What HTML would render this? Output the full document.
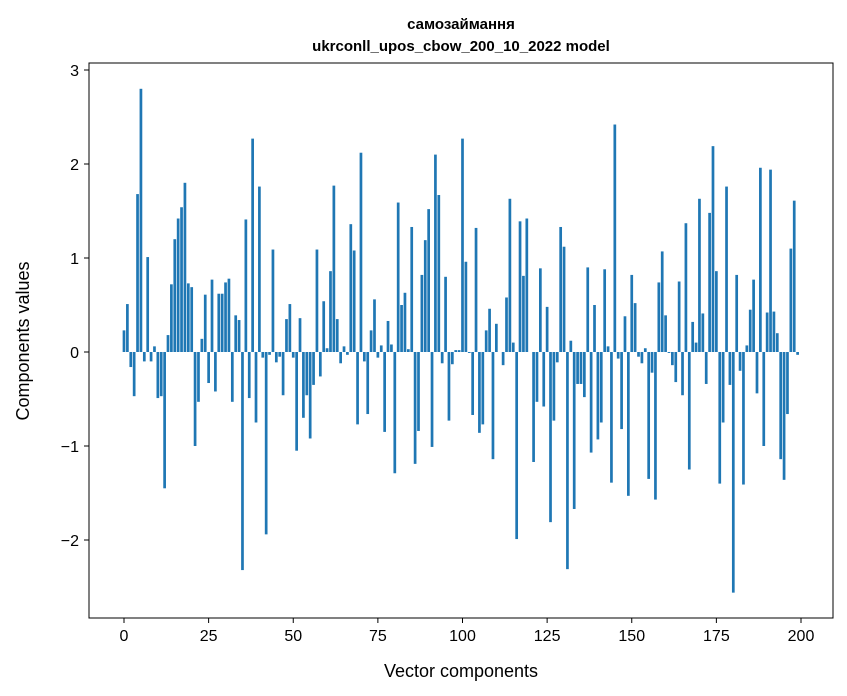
<!DOCTYPE html>
<html><head><meta charset="utf-8"><style>body{margin:0;background:#fff}svg{display:block}text{font-family:"Liberation Sans","DejaVu Sans",sans-serif}</style></head>
<body>
<svg id="chart" width="847" height="696">
<text x="461" y="29" text-anchor="middle" font-size="15" font-weight="bold">самозаймання</text>
<text x="461" y="51" text-anchor="middle" font-size="15" font-weight="bold">ukrconll_upos_cbow_200_10_2022 model</text>
<g id="bars"></g>
<g id="axes"></g>
<rect x="89" y="63" width="744" height="555" fill="none" stroke="#000" stroke-width="1"/>
<text x="461" y="677" text-anchor="middle" font-size="18">Vector components</text>
<text transform="translate(29,341) rotate(-90)" text-anchor="middle" font-size="18">Components values</text>
</svg>
<script>
const values=[0.23,0.51,-0.16,-0.47,1.68,2.8,-0.1,1.01,-0.1,0.06,-0.49,-0.47,-1.45,0.18,0.72,1.2,1.42,1.54,1.8,0.73,0.69,-1.0,-0.53,0.14,0.61,-0.33,0.77,-0.42,0.62,0.62,0.74,0.78,-0.53,0.39,0.34,-2.32,1.41,-0.49,2.27,-0.75,1.76,-0.06,-1.94,-0.03,1.09,-0.11,-0.05,-0.46,0.35,0.51,-0.06,-1.05,0.36,-0.7,-0.46,-0.92,-0.35,1.09,-0.26,0.54,0.04,0.86,1.77,0.35,-0.12,0.06,-0.03,1.36,1.08,-0.77,2.12,-0.1,-0.66,0.23,0.56,-0.06,0.07,-0.85,0.33,0.08,-1.29,1.59,0.5,0.63,0.03,1.33,-1.19,-0.84,0.82,1.19,1.52,-1.01,2.1,1.67,-0.12,0.8,-0.73,-0.13,0.02,0.02,2.27,0.96,-0.01,-0.67,1.32,-0.86,-0.77,0.23,0.46,-1.14,0.3,0.0,-0.14,0.58,1.63,0.1,-1.99,1.39,0.81,1.42,0.0,-1.17,-0.53,0.89,-0.58,0.48,-1.81,-0.73,-0.11,1.33,1.12,-2.31,0.12,-1.67,-0.34,-0.34,-0.48,0.9,-1.07,0.5,-0.93,-0.75,0.88,0.06,-1.39,2.42,-0.07,-0.82,0.38,-1.53,0.82,0.52,-0.05,-0.12,0.04,-1.35,-0.22,-1.57,0.74,1.07,0.39,-0.01,-0.14,-0.32,0.75,-0.46,1.37,-1.25,0.32,0.1,1.63,0.41,-0.34,1.48,2.19,0.86,-1.4,-0.75,1.76,-0.35,-2.56,0.82,-0.2,-1.41,0.07,0.45,0.77,-0.44,1.96,-1.0,0.42,1.94,0.43,0.2,-1.14,-1.36,-0.66,1.1,1.61,-0.03];
const xTicks=[0,25,50,75,100,125,150,175,200];
const yTicks=[-2,-1,0,1,2,3];
const NS="http://www.w3.org/2000/svg";
function xs(v){return 124+v*(801-124)/200;}
function ys(v){return 352-v*94;}
const bars=document.getElementById('bars'),axes=document.getElementById('axes');
values.forEach((v,i)=>{const r=document.createElementNS(NS,'rect');
r.setAttribute('x',xs(i-0.4));r.setAttribute('width',xs(0.8)-xs(0));
r.setAttribute('y',Math.min(ys(v),ys(0)));r.setAttribute('height',Math.abs(ys(v)-ys(0)));
r.setAttribute('fill','#1f77b4');


bars.appendChild(r);});
xTicks.forEach(t=>{const l=document.createElementNS(NS,'line');l.setAttribute('x1',xs(t));l.setAttribute('x2',xs(t));l.setAttribute('y1',618);l.setAttribute('y2',623);l.setAttribute('stroke','#000');


axes.appendChild(l);
const tx=document.createElementNS(NS,'text');tx.setAttribute('x',xs(t));tx.setAttribute('y',641);tx.setAttribute('text-anchor','middle');tx.setAttribute('font-size','16');tx.textContent=t;


axes.appendChild(tx);});
yTicks.forEach(t=>{const l=document.createElementNS(NS,'line');l.setAttribute('x1',84);l.setAttribute('x2',89);l.setAttribute('y1',ys(t));l.setAttribute('y2',ys(t));l.setAttribute('stroke','#000');


axes.appendChild(l);
const tx=document.createElementNS(NS,'text');tx.setAttribute('x',79);tx.setAttribute('y',ys(t)+6);tx.setAttribute('text-anchor','end');tx.setAttribute('font-size','16');tx.textContent=t<0?'\u2212'+Math.abs(t):t;


axes.appendChild(tx);});
</script>
</body></html>
